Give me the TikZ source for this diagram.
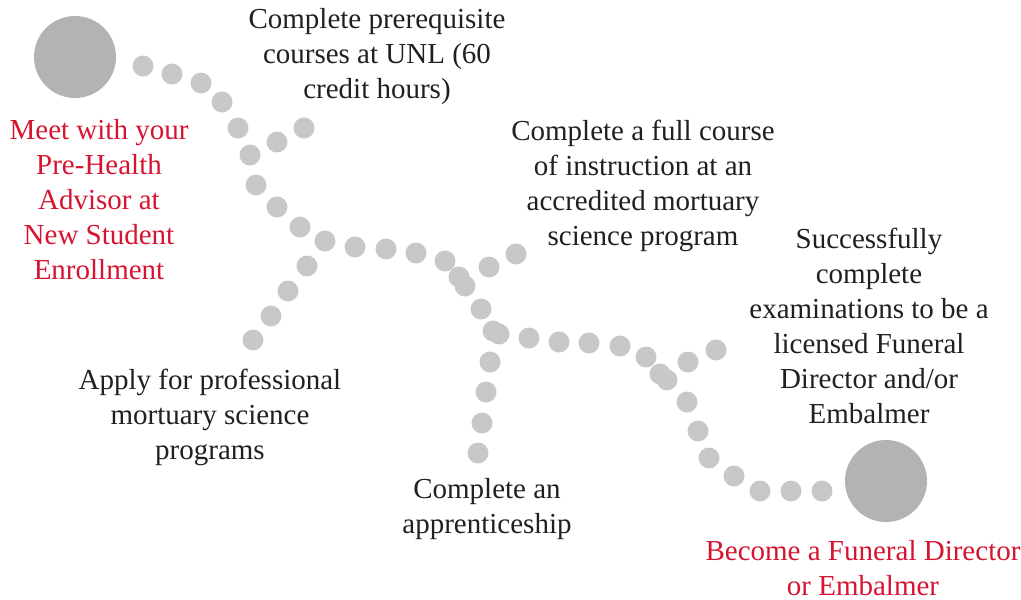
\documentclass[tikz,border=0pt]{standalone}
\usepackage{fontspec}
\setmainfont{Liberation Serif}
\definecolor{dotgray}{RGB}{200,200,200}
\definecolor{biggray}{RGB}{179,179,179}
\definecolor{redtext}{RGB}{214,20,48}
\definecolor{darktext}{RGB}{35,31,32}
\tikzset{
  dotc/.style={fill=dotgray, draw=none},
  bigc/.style={circle, fill=biggray, draw=none, minimum size=82pt, inner sep=0pt},
  lbl/.style={align=center, text=darktext, font=\fontsize{29}{35}\selectfont, inner sep=0pt},
  redlbl/.style={lbl, text=redtext}
}
\begin{document}
\begin{tikzpicture}[x=1pt, y=-1pt]
\useasboundingbox (0,0) rectangle (1021,600);
\node[bigc] (start) at (75,57) {};
\node[bigc] (finish) at (886,481) {};
% dots
\foreach \px/\py in {
  143/66, 172/74, 201/83, 222/102, 238/128, 250/155, 256/185, 277/207, 300/227, 325/241,
  277/142, 304/128,
  307/266, 288/291, 271/316, 253/340,
  355/247, 386/249, 416/253, 445/261, 459/277, 465/286, 481/309, 493/331, 499/334,
  489/267, 516/254,
  490/362, 486/392, 482/423, 478/453,
  529/338, 559/342, 589/343, 620/346, 646/357, 660/374, 667/380, 687/402, 698/431, 709/458, 734/476, 760/491, 791/491, 822/491,
  688/362, 716/350}
  \fill[dotc] (\px,\py) circle (10.5pt);
\node[lbl] (prereq) at (377,57) {Complete prerequisite\\courses at UNL (60\\credit hours)};
\node[redlbl] (meet) at (99,200) {Meet with your\\Pre-Health\\Advisor at\\New Student\\Enrollment};
\node[lbl] (course) at (643,186) {Complete a full course\\of instruction at an\\accredited mortuary\\science program};
\node[lbl] (exam) at (869,326) {Successfully\\complete\\examinations to be a\\licensed Funeral\\Director and/or\\Embalmer};
\node[lbl] (apply) at (210,417) {Apply for professional\\mortuary science\\programs};
\node[lbl] (appr) at (487,509) {Complete an\\apprenticeship};
\node[redlbl] (become) at (863,568) {Become a Funeral Director\\or Embalmer};
\end{tikzpicture}
\end{document}
